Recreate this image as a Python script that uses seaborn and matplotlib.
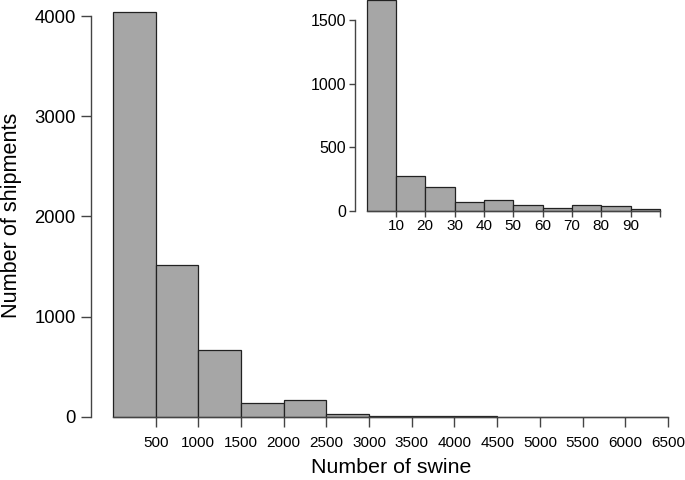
import numpy as np
import matplotlib
matplotlib.use("Agg")
import matplotlib.pyplot as plt
import seaborn as sns

# Main histogram: number of swine per shipment (bins of 500)
main_edges = [0, 500, 1000, 1500, 2000, 2500, 3000, 3500, 4000, 4500, 5000, 5500, 6000, 6500]
main_counts = [4040, 1513, 668, 140, 165, 33, 5, 12, 9, 3, 2, 1, 1]
main_xticks = [500, 1000, 1500, 2000, 2500, 3000, 3500, 4000, 4500, 5000, 5500, 6000, 6500]
main_yticks = [0, 1000, 2000, 3000, 4000]

# Inset histogram: shipments with fewer than 100 swine (bins of 10)
inset_edges = [0, 10, 20, 30, 40, 50, 60, 70, 80, 90, 100]
inset_counts = [1660, 274, 185, 69, 82, 43, 24, 47, 35, 13]
inset_xticks = [10, 20, 30, 40, 50, 60, 70, 80, 90, 100]
inset_xlabels = ["10", "20", "30", "40", "50", "60", "70", "80", "90", ""]
inset_yticks = [0, 500, 1000, 1500]

sns.set_theme(style="white")
plt.rcParams['font.family'] = ['Liberation Sans', 'DejaVu Sans']
plt.rcParams['text.color'] = 'black'
plt.rcParams['axes.labelcolor'] = 'black'
plt.rcParams['xtick.color'] = 'black'
plt.rcParams['ytick.color'] = 'black'

BAR = "#a6a6a6"
EDGE = "#222222"
SPINE = "#444444"

fig = plt.figure(figsize=(6.85, 4.8), dpi=100)

def centers(edges):
    e = np.asarray(edges, dtype=float)
    return (e[:-1] + e[1:]) / 2

def style_axes(ax, xb, yb):
    for s in ["top", "right"]:
        ax.spines[s].set_visible(False)
    ax.spines["bottom"].set_position(("data", 0))
    ax.spines["bottom"].set_bounds(*xb)
    ax.spines["left"].set_bounds(*yb)
    for s in ["bottom", "left"]:
        ax.spines[s].set_color(SPINE)
        ax.spines[s].set_linewidth(1.0)
    ax.tick_params(axis="both", direction="out", length=7, width=1.0,
                   color=SPINE, labelcolor="black", bottom=True, left=True)

# Main axes
ax = fig.add_axes([0.1328, 0.1, 0.8579, 0.8875])
sns.histplot(x=centers(main_edges), weights=main_counts, bins=main_edges,
             color=BAR, edgecolor=EDGE, linewidth=0.9, alpha=1.0, ax=ax)
ax.set_xlim(-257, 6625)
ax.set_ylim(-150, 4100)
ax.set_xticks(main_xticks)
ax.set_xticklabels([str(v) for v in main_xticks], fontsize=8.9)
ax.set_yticks(main_yticks)
ax.set_yticklabels([str(v) for v in main_yticks], fontsize=13.3)
style_axes(ax, (0, 6500), (0, 4000))
ax.tick_params(axis="x", pad=7)
ax.tick_params(axis="y", pad=4)
ax.set_xlabel("Number of swine", fontsize=15.4)
ax.set_ylabel("Number of shipments", fontsize=15.6)
ax.xaxis.set_label_coords(0.5117, -0.060)
ax.yaxis.set_label_coords(-0.118, 0.509)

# Inset axes
ax2 = fig.add_axes([0.518, 0.545, 0.454, 0.455])
sns.histplot(x=centers(inset_edges), weights=inset_counts, bins=inset_edges,
             color=BAR, edgecolor=EDGE, linewidth=0.9, alpha=1.0, ax=ax2)
ax2.set_xlim(-4, 102)
ax2.set_ylim(-60, 1660)
ax2.set_xticks(inset_xticks)
ax2.set_xticklabels(inset_xlabels, fontsize=11)
ax2.set_yticks(inset_yticks)
ax2.set_yticklabels([str(v) for v in inset_yticks], fontsize=11.5)
style_axes(ax2, (0, 100), (0, 1500))
ax2.tick_params(axis="both", length=4)
ax2.tick_params(axis="x", pad=2)
ax2.tick_params(axis="y", pad=2)
ax2.set_xlabel("")
ax2.set_ylabel("")
ax2.patch.set_alpha(0)

fig.savefig("out.png", dpi=100)
